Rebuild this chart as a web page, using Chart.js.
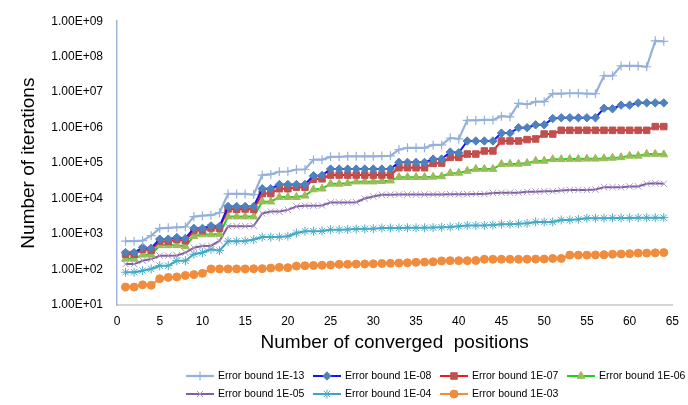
<!DOCTYPE html>
<html>
<head>
<meta charset="utf-8">
<script src="https://cdn.jsdelivr.net/npm/chart.js@4.4.1/dist/chart.umd.min.js"></script>
<style>
  html, body { margin: 0; padding: 0; background: #ffffff; }
  #wrap { width: 688px; height: 405px; position: relative; }
</style>
</head>
<body>
<div id="wrap"><canvas id="c" width="688" height="405"></canvas></div>
<script>
// Converged positions 1..64 along the x axis
const positions = Array.from({ length: 64 }, (_, i) => i + 1);

const seriesNames = [
  'Error bound 1E-13', 'Error bound 1E-08', 'Error bound 1E-07', 'Error bound 1E-06',
  'Error bound 1E-05', 'Error bound 1E-04', 'Error bound 1E-03'
];

// Iteration counts per error bound
const bound13 = [630, 630, 650, 900, 1450, 1500, 1550, 1600, 3100, 3300, 3400, 4000,
  13500, 13500, 13500, 13000, 46000, 48000, 57000, 58000, 66000, 66000, 125000, 125000,
  150000, 150000, 155000, 155000, 155000, 155000, 158000, 160000, 240000, 270000, 270000, 270000,
  325000, 325000, 510000, 480000, 1600000, 1600000, 1650000, 1650000, 2100000, 2000000, 4800000, 4500000,
  5400000, 5400000, 9100000, 9100000, 9300000, 9300000, 9100000, 9000000, 29000000, 29000000,
  55000000, 55000000, 55000000, 52000000, 280000000, 270000000];
const bound08 = [300, 300, 420, 400, 720, 720, 800, 750, 1450, 1450, 1700, 1650,
  6000, 6000, 6000, 6000, 19000, 19000, 25000, 25000, 25000, 25000, 44000, 45000,
  68000, 68000, 68000, 68000, 68000, 68000, 68000, 68000, 105000, 105000, 105000, 105000,
  130000, 130000, 205000, 195000, 420000, 420000, 420000, 420000, 700000, 700000, 1000000, 1000000,
  1200000, 1200000, 1800000, 1900000, 1900000, 1900000, 1900000, 1900000, 3500000, 3400000,
  4300000, 4300000, 5000000, 5000000, 5000000, 5000000];
const bound07 = [270, 270, 370, 350, 630, 620, 700, 650, 1250, 1250, 1480, 1450,
  5100, 5000, 5100, 5000, 13800, 13800, 19000, 19000, 21000, 21000, 35000, 36000,
  46000, 46000, 46000, 46000, 46000, 46000, 46000, 46000, 74000, 74000, 74000, 74000,
  98000, 100000, 145000, 145000, 180000, 180000, 220000, 220000, 420000, 420000, 420000, 460000,
  480000, 660000, 660000, 840000, 840000, 840000, 840000, 840000, 840000, 840000,
  840000, 840000, 840000, 840000, 1070000, 1070000];
const bound06 = [200, 200, 260, 260, 480, 480, 480, 450, 870, 970, 970, 1000,
  3100, 3100, 3100, 3100, 8200, 8200, 11000, 11000, 11000, 12000, 18000, 19000,
  26000, 26000, 27000, 30000, 30000, 30000, 31000, 32000, 40000, 40000, 40000, 40000,
  41000, 42000, 52000, 53000, 60000, 68000, 68000, 68000, 93000, 95000, 95000, 100000,
  115000, 115000, 128000, 128000, 130000, 130000, 132000, 132000, 135000, 140000,
  145000, 160000, 160000, 180000, 180000, 175000];
const bound05 = [142, 142, 177, 197, 245, 245, 250, 300, 410, 460, 470, 640,
  1660, 1660, 1660, 1700, 3800, 4300, 4300, 4800, 6000, 6300, 6300, 6400,
  7800, 7800, 7800, 7900, 10000, 11500, 12800, 12900, 13000, 13000, 13000, 13000,
  13000, 13100, 13200, 13200, 13300, 13400, 13500, 14400, 14600, 14600, 14700, 15500,
  15600, 16000, 16000, 17000, 17500, 17500, 17500, 18000, 21000, 21000,
  21000, 22000, 22000, 26000, 27000, 26000];
const bound04 = [84, 84, 93, 104, 128, 128, 177, 177, 270, 300, 370, 340,
  630, 630, 640, 700, 820, 820, 830, 870, 1070, 1200, 1200, 1220,
  1330, 1330, 1350, 1380, 1400, 1420, 1480, 1480, 1480, 1500, 1500, 1500,
  1520, 1550, 1580, 1660, 1750, 1750, 1750, 1800, 1900, 1900, 1950, 2000,
  2200, 2200, 2200, 2500, 2500, 2600, 2800, 2800, 2800, 2850,
  2850, 2850, 2900, 2900, 2900, 2900];
const bound03 = [32, 32, 37, 36, 55, 60, 62, 68, 72, 78, 104, 104,
  104, 104, 104, 105, 106, 110, 115, 113, 125, 128, 130, 132,
  135, 140, 140, 142, 143, 145, 148, 150, 152, 155, 160, 162,
  165, 175, 178, 178, 178, 180, 195, 195, 195, 195, 195, 196,
  197, 198, 205, 205, 255, 255, 255, 258, 260, 270,
  275, 280, 290, 290, 295, 300];

// Axis ticks
const yTickValues = [1e1, 1e2, 1e3, 1e4, 1e5, 1e6, 1e7, 1e8, 1e9];
const yTickLabels = ['1.00E+01', '1.00E+02', '1.00E+03', '1.00E+04', '1.00E+05',
  '1.00E+06', '1.00E+07', '1.00E+08', '1.00E+09'];
const xTickValues = [0, 5, 10, 15, 20, 25, 30, 35, 40, 45, 50, 55, 60, 65];

const FONT = "'Liberation Sans', Arial, sans-serif";

const styles = [
  { line: '#95B1DA', marker: '#95B1DA', fill: '#95B1DA', shape: 'cross', r: 4.5, bw: 1.2, lw: 2.2 },
  { line: '#1515F5', marker: '#4F81BD', fill: '#4F81BD', shape: 'rectRot', r: 4.2, bw: 1, lw: 2 },
  { line: '#F21B1B', marker: '#C0504D', fill: '#C0504D', shape: 'rect', r: 4.6, bw: 1, lw: 2 },
  { line: '#1FD11F', marker: '#9BBB59', fill: '#9BBB59', shape: 'triangle', r: 4.6, bw: 1, lw: 2 },
  { line: '#7F5FA0', marker: '#A995C6', fill: 'rgba(0,0,0,0)', shape: 'crossRot', r: 4.5, bw: 1, lw: 2 },
  { line: '#3DA3C2', marker: '#4BACC6', fill: '#4BACC6', shape: 'star', r: 4.5, bw: 1, lw: 2 },
  { line: '#F08C3C', marker: '#F08C3C', fill: '#F08C3C', shape: 'circle', r: 4, bw: 1, lw: 2 }
];

const seriesValues = [bound13, bound08, bound07, bound06, bound05, bound04, bound03];

const datasets = seriesValues.map((vals, k) => ({
  label: seriesNames[k],
  data: vals.map((v, i) => ({ x: positions[i], y: v })),
  borderColor: styles[k].line,
  backgroundColor: styles[k].fill,
  borderWidth: styles[k].lw,
  pointStyle: styles[k].shape,
  pointRadius: styles[k].r,
  pointBorderColor: styles[k].marker,
  pointBackgroundColor: styles[k].fill,
  pointBorderWidth: styles[k].bw,
  tension: 0,
  fill: false
}));

// Two-row legend with a line sample and marker for every series
const legendPlugin = {
  id: 'sampleLegend',
  afterDraw(chart) {
    const ctx = chart.ctx;
    const colX = [186, 313, 440, 567];
    const rowY = [376, 394];
    ctx.save();
    ctx.font = '10.5px ' + FONT;
    ctx.textBaseline = 'middle';
    ctx.textAlign = 'left';
    chart.data.datasets.forEach((ds, k) => {
      const x = colX[k % 4];
      const y = rowY[Math.floor(k / 4)];
      ctx.strokeStyle = ds.borderColor;
      ctx.lineWidth = ds.borderWidth;
      ctx.beginPath();
      ctx.moveTo(x, y);
      ctx.lineTo(x + 28, y);
      ctx.stroke();
      ctx.fillStyle = ds.pointBackgroundColor;
      ctx.strokeStyle = ds.pointBorderColor;
      ctx.lineWidth = ds.pointBorderWidth;
      Chart.helpers.drawPoint(ctx, {
        pointStyle: ds.pointStyle, radius: ds.pointRadius, rotation: 0,
        borderWidth: ds.pointBorderWidth
      }, x + 14, y);
      ctx.fillStyle = '#000000';
      ctx.fillText(ds.label, x + 32, y);
    });
    ctx.restore();
  }
};

new Chart(document.getElementById('c'), {
  type: 'line',
  data: { datasets },
  plugins: [legendPlugin],
  options: {
    responsive: false,
    devicePixelRatio: 1,
    animation: false,
    layout: { padding: { left: 0, right: 9, top: 16, bottom: 48 } },
    plugins: { legend: { display: false }, tooltip: { enabled: false } },
    scales: {
      x: {
        type: 'linear',
        min: 0,
        max: 65,
        afterBuildTicks: s => { s.ticks = xTickValues.map(v => ({ value: v })); },
        afterFit: s => { s.height = 52; },
        ticks: { color: '#000000', font: { family: FONT, size: 12 }, padding: 9, maxRotation: 0 },
        grid: { display: false, drawTicks: false },
        border: { display: true, color: '#D4D4D4', width: 2 },
        title: {
          display: true,
          text: 'Number of converged  positions',
          color: '#000000',
          font: { family: FONT, size: 19 },
          padding: { top: 2, bottom: 3 }
        }
      },
      y: {
        type: 'logarithmic',
        min: 10,
        max: 1e9,
        afterBuildTicks: s => { s.ticks = yTickValues.map(v => ({ value: v })); },
        afterFit: s => { s.width = 117; },
        ticks: {
          color: '#000000',
          font: { family: FONT, size: 12 },
          padding: 14,
          callback: v => yTickLabels[Math.round(Math.log10(v)) - 1]
        },
        grid: { display: false, drawTicks: false },
        border: { display: true, color: '#9FB6DC', width: 1.5 },
        title: {
          display: true,
          text: 'Number of iterations',
          color: '#000000',
          font: { family: FONT, size: 19 },
          padding: { top: 17, bottom: 0 }
        }
      }
    }
  }
});
</script>
</body>
</html>
